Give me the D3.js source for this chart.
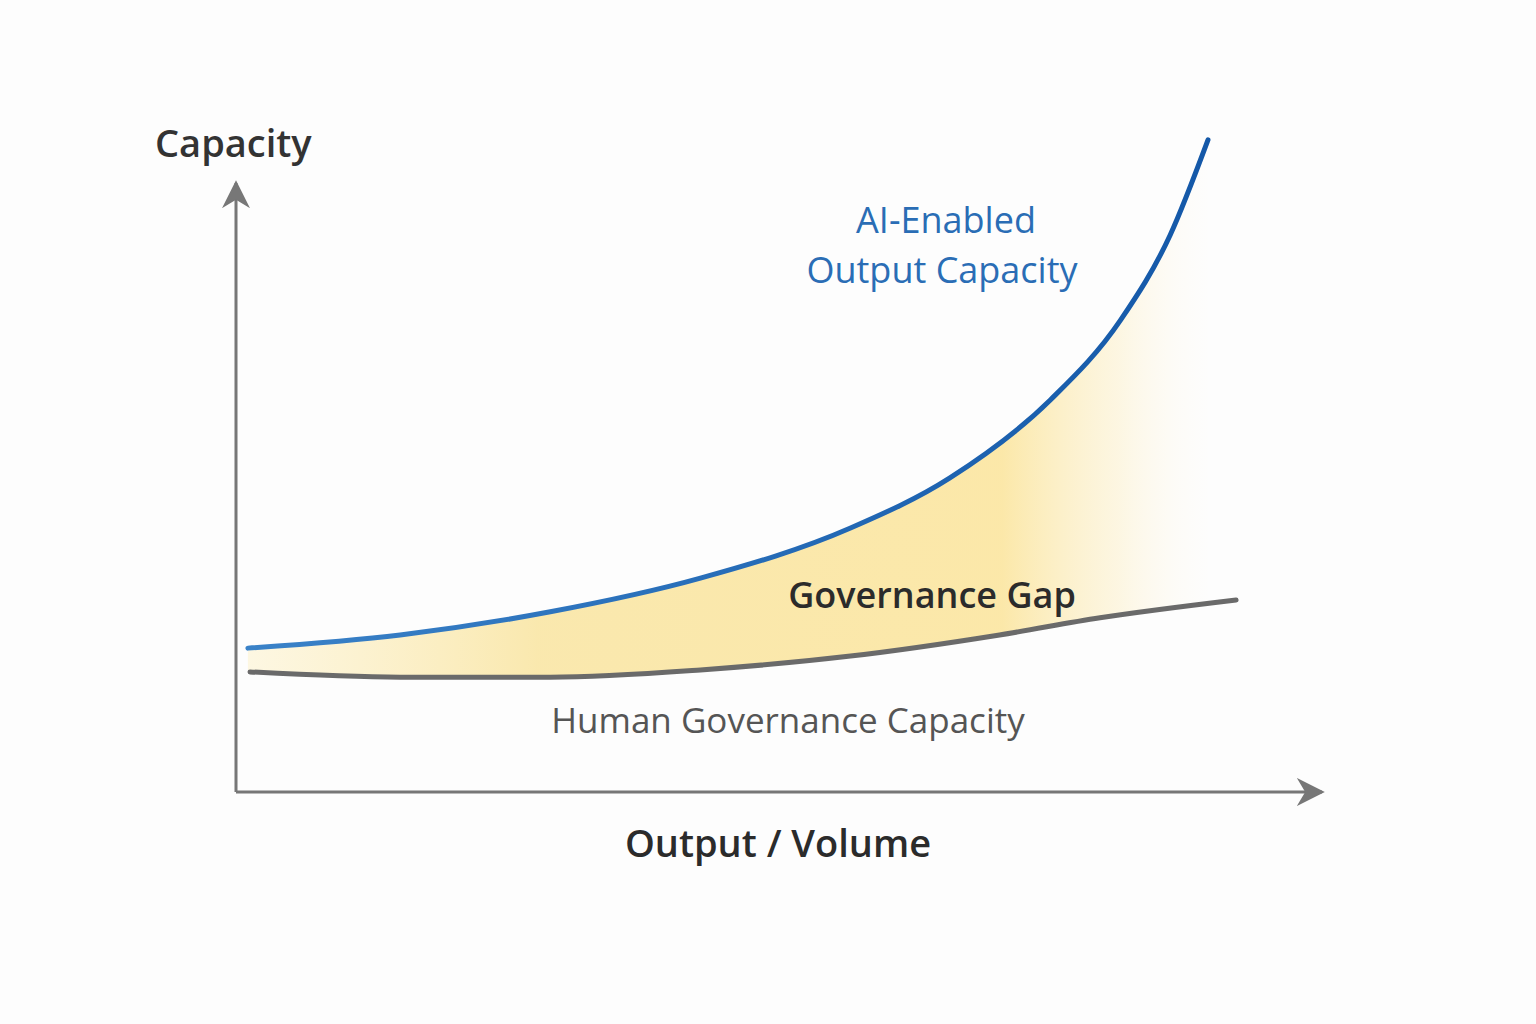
<!DOCTYPE html>
<html>
<head>
<meta charset="utf-8">
<script src="https://cdn.jsdelivr.net/npm/d3@7.9.0/dist/d3.min.js"></script>
<style>
  body { margin: 0; background: #fdfdfd; }
  text { font-family: "Open Sans", Lato, sans-serif; }
</style>
</head>
<body>
<svg width="1536" height="1024"></svg>
<script>
// curve readings in axis units (x: 0..100 output, y: 0..100 capacity)
const aiX = [1.1, 15.2, 29.1, 43.0, 56.9, 66.1, 75.4, 81.9, 86.5, 90.0];
const aiY = [21.8, 23.8, 27.3, 32.4, 40.0, 47.6, 59.4, 71.5, 84.4, 98.8];
const humanX = [1.3, 15.2, 29.1, 43.0, 56.9, 70.7, 80.0, 92.6];
const humanY = [18.2, 17.4, 17.4, 18.5, 20.6, 23.8, 26.4, 29.1];

const svg = d3.select('svg');
const x = d3.scaleLinear().domain([0, 100]).range([236, 1316]);
const y = d3.scaleLinear().domain([0, 100]).range([792, 132]);

const ai = aiX.map((v, i) => ({ x: v, y: aiY[i] }));
const human = humanX.map((v, i) => ({ x: v, y: humanY[i] }));
const interp = d3.scaleLinear().domain(humanX).range(humanY);

const defs = svg.append('defs');
let grad = defs.append('linearGradient').attr('id', 'gap')
  .attr('gradientUnits', 'userSpaceOnUse')
  .attr('x1', 248).attr('x2', 1215).attr('y1', 0).attr('y2', 0);
[[0, '#fdf3d0', 0.6], [0.3, '#f9e39a', 0.8], [0.78, '#fbe49a', 0.85], [0.9, '#fcefc6', 0.5], [1, '#fffaf0', 0]]
  .forEach(([o, c, a]) => grad.append('stop').attr('offset', o).attr('stop-color', c).attr('stop-opacity', a));

let blueGrad = defs.append('linearGradient').attr('id', 'blue')
  .attr('gradientUnits', 'userSpaceOnUse')
  .attr('x1', 248).attr('x2', 1210).attr('y1', 0).attr('y2', 0);
blueGrad.append('stop').attr('offset', 0).attr('stop-color', '#3a82c8');
blueGrad.append('stop').attr('offset', 1).attr('stop-color', '#1458a8');

let area = d3.area()
  .x(d => x(d.x))
  .y0(d => y(interp(d.x)))
  .y1(d => y(d.y))
  .curve(d3.curveMonotoneX);
svg.append('path').datum(ai).attr('d', area).attr('fill', 'url(#gap)');

let line = d3.line().x(d => x(d.x)).y(d => y(d.y)).curve(d3.curveMonotoneX);
svg.append('path').datum(human).attr('d', line)
  .attr('fill', 'none').attr('stroke', '#6a6a6a').attr('stroke-width', 5).attr('stroke-linecap', 'round');
svg.append('path').datum(ai).attr('d', line)
  .attr('fill', 'none').attr('stroke', 'url(#blue)').attr('stroke-width', 5).attr('stroke-linecap', 'round');

// axes with arrowheads
defs.append('marker').attr('id', 'arrow').attr('viewBox', '0 0 10 10')
  .attr('refX', 9).attr('refY', 5).attr('markerWidth', 28).attr('markerHeight', 28)
  .attr('markerUnits', 'userSpaceOnUse').attr('orient', 'auto')
  .append('path').attr('d', 'M0,0 L10,5 L0,10 L3,5 Z').attr('fill', '#777');
svg.append('line').attr('x1', 236).attr('y1', 792).attr('x2', 1322).attr('y2', 792)
  .attr('stroke', '#777').attr('stroke-width', 3).attr('marker-end', 'url(#arrow)');
svg.append('line').attr('x1', 236).attr('y1', 792).attr('x2', 236).attr('y2', 183)
  .attr('stroke', '#777').attr('stroke-width', 3).attr('marker-end', 'url(#arrow)');

const labels = [
  { t: 'Capacity', x: 155, y: 157, a: 'start', s: 38, c: '#333', w: 600 },
  { t: 'AI-Enabled', x: 946, y: 233, a: 'middle', s: 36, c: '#2a6db5', w: 400 },
  { t: 'Output Capacity', x: 942, y: 283, a: 'middle', s: 36, c: '#2a6db5', w: 400 },
  { t: 'Governance Gap', x: 932, y: 608, a: 'middle', s: 36, c: '#2b2b2b', w: 600 },
  { t: 'Human Governance Capacity', x: 788, y: 733, a: 'middle', s: 35, c: '#555', w: 400 },
  { t: 'Output / Volume', x: 778, y: 857, a: 'middle', s: 38, c: '#2b2b2b', w: 600 }
];
svg.selectAll('text.lbl').data(labels).enter().append('text')
  .attr('class', 'lbl')
  .attr('x', d => d.x).attr('y', d => d.y)
  .attr('text-anchor', d => d.a)
  .attr('font-size', d => d.s)
  .attr('font-weight', d => d.w)
  .attr('fill', d => d.c)
  .text(d => d.t);
</script>
</body>
</html>
